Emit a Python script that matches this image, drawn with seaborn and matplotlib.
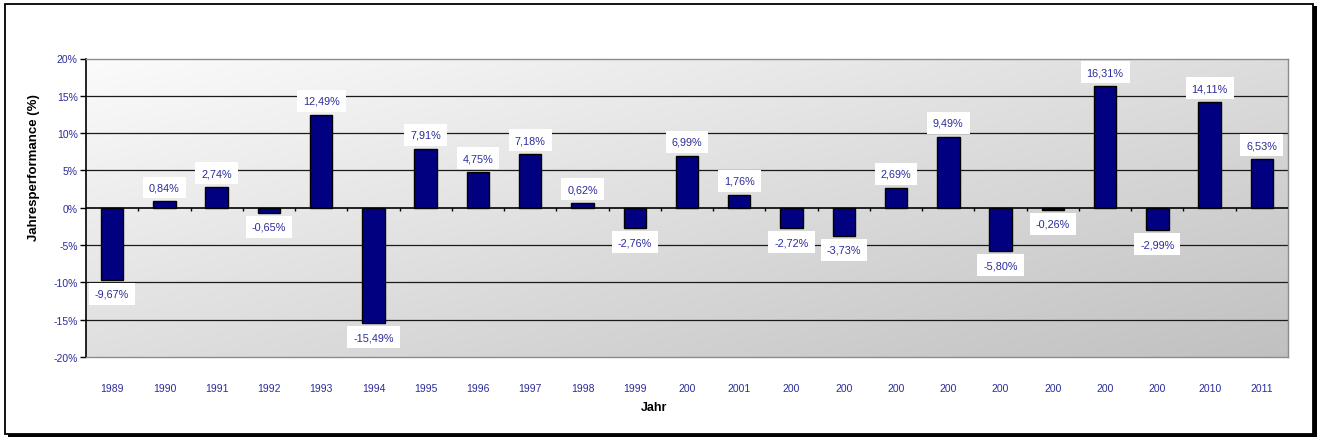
import numpy as np
import pandas as pd
import matplotlib.pyplot as plt
import seaborn as sns
from matplotlib.patches import Rectangle

# Daten
jahre = [1989, 1990, 1991, 1992, 1993, 1994, 1995, 1996, 1997, 1998, 1999, 2000,
         2001, 2002, 2003, 2004, 2005, 2006, 2007, 2008, 2009, 2010, 2011]
tick_labels = ['1989', '1990', '1991', '1992', '1993', '1994', '1995', '1996', '1997',
               '1998', '1999', '200', '2001', '200', '200', '200', '200', '200', '200',
               '200', '200', '2010', '2011']
performance = [-9.67, 0.84, 2.74, -0.65, 12.49, -15.49, 7.91, 4.75, 7.18, 0.62, -2.76,
               6.99, 1.76, -2.72, -3.73, 2.69, 9.49, -5.80, -0.26, 16.31, -2.99, 14.11, 6.53]
y_ticks = [-20, -15, -10, -5, 0, 5, 10, 15, 20]

df = pd.DataFrame({'Jahr': jahre, 'Perf': performance})

sns.set_theme(style='white')
plt.rcParams['font.family'] = ['Liberation Sans', 'DejaVu Sans']

BLAU = '#2b2b9a'

fig = plt.figure(figsize=(13.17, 4.39), dpi=100)
fig.patch.set_facecolor('white')
ax = fig.add_axes([86 / 1317, 1 - 358 / 439, (1288 - 86) / 1317, (358 - 59.5) / 439])

# Hintergrund-Verlauf: oben links hell, unten rechts grau
gx, gy = np.meshgrid(np.linspace(0, 1, 300), np.linspace(0, 1, 100))
grau = 0.985 - 0.12 * gx - 0.11 * gy
rgb = np.dstack([grau, grau, grau])
ax.imshow(rgb, extent=[0, 1, 0, 1], transform=ax.transAxes,
          aspect='auto', zorder=0, origin='upper')

sns.barplot(data=df, x='Jahr', y='Perf', order=jahre, color='#000080',
            saturation=1, width=0.43, edgecolor='black', linewidth=1, ax=ax, zorder=3)

ax.set_ylim(-20, 20)
ax.set_xlim(-0.5, len(jahre) - 0.5)
ax.set_yticks(y_ticks)
ax.set_yticklabels([f'{t}%' for t in y_ticks])
ax.set_xticks(range(len(jahre)))
ax.set_xticklabels(tick_labels)

for t in y_ticks:
    if t in (-20, 0, 20):
        continue
    ax.axhline(t, color='#1a1a1a', linewidth=0.9, zorder=1)
ax.axhline(0, color='black', linewidth=1.2, zorder=4)
ax.vlines(np.arange(len(jahre) - 1) + 0.5, -0.5, 0, color='black', linewidth=1, zorder=4)

for s in ['top', 'right', 'bottom']:
    ax.spines[s].set_color('#8c8c8c')
    ax.spines[s].set_linewidth(1)
ax.spines['left'].set_color('black')
ax.spines['left'].set_linewidth(1.2)

ax.tick_params(axis='y', colors=BLAU, labelsize=7.5, left=True, length=4,
               width=1, direction='out', pad=2)
ax.tick_params(axis='y', color='black')
ax.tick_params(axis='x', colors=BLAU, labelsize=7.5, bottom=False, pad=13)

# Datenbeschriftungen
for i, v in enumerate(performance):
    txt = f'{v:.2f}%'.replace('.', ',')
    off = 14 if v >= 0 else -14
    ax.annotate(txt, (i, v), xytext=(0, off), textcoords='offset pixels',
                ha='center', va='center', fontsize=7.8, color=BLAU, zorder=6,
                bbox=dict(boxstyle='square,pad=0.55', fc='white', ec='none'))

ax.set_xlabel('Jahr', fontsize=9, fontweight='bold', color='black')
ax.set_ylabel('Jahresperformance (%)', fontsize=9.5, fontweight='bold', color='black')
ax.xaxis.set_label_coords(0.473, -0.147)
ax.yaxis.set_label_coords(-0.038, 0.637)

# Rahmen mit Schatten
W, H = 1317, 439
fig.patches.append(Rectangle((8 / W, 1 - 438 / H), 1309 / W, 431 / H,
                             transform=fig.transFigure, fc='black', ec='none',
                             zorder=-2))
fig.patches.append(Rectangle((4.5 / W, 1 - 434.5 / H), 1308 / W, 430 / H,
                             transform=fig.transFigure, fc='white', ec='black', lw=1.3,
                             zorder=-1))

fig.savefig('out.png', dpi=100, facecolor='white')
